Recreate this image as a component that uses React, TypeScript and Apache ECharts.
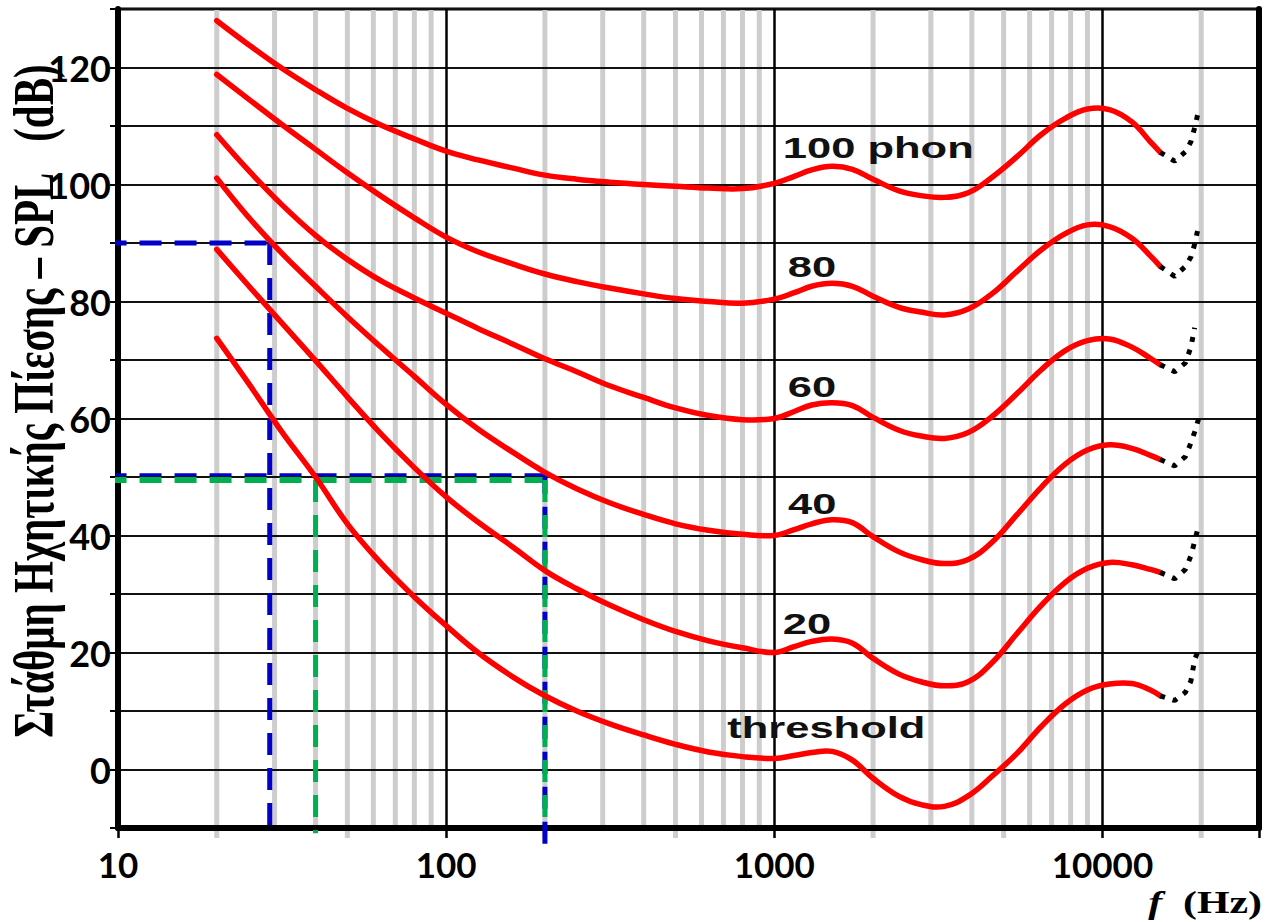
import React, { useEffect, useRef } from "react";
import * as echarts from "echarts";

// ---- data ----
const FREQS = [20, 25, 31.5, 40, 50, 63, 80, 100, 125, 160, 200, 250, 315, 400, 500, 630, 800, 1000, 1150, 1300, 1500, 1730, 2000, 2400, 2800, 3300, 3900, 4600, 5500, 6500, 7700, 9000, 10500, 12300, 14000, 15000];

const PHON_100 = [128, 123.9, 119.9, 116.2, 113, 110.2, 107.8, 105.7, 104.2, 102.8, 101.6, 100.9, 100.4, 100, 99.7, 99.4, 99.3, 100.2, 101.4, 102.5, 103.1, 102.6, 100.9, 98.9, 98.1, 97.8, 98.6, 101.2, 104.8, 108.5, 111.3, 112.9, 112.8, 110.7, 107.3, 105.5];
const PHON_80 = [118.8, 114.6, 110.3, 106, 102, 98.1, 94.3, 91, 88.5, 86.4, 84.7, 83.4, 82.3, 81.3, 80.5, 80, 79.7, 80.4, 81.5, 82.6, 83.1, 82.6, 80.9, 79, 78.2, 77.7, 78.7, 81.3, 85.2, 88.8, 91.6, 93.1, 92.8, 90.8, 87.8, 86];
const PHON_60 = [108.5, 102.4, 96.6, 91.3, 87.2, 83.6, 80.6, 78, 75.4, 72.7, 70.2, 68, 65.6, 63.6, 61.8, 60.5, 59.8, 60, 61.2, 62.3, 62.7, 62.2, 60.2, 58, 57, 56.6, 57.6, 60.3, 64.3, 68.3, 71.6, 73.3, 73.6, 72.2, 70.3, 69.2];
const PHON_40 = [101.1, 94.4, 88.3, 82.6, 77.4, 72.3, 67.2, 62.4, 58.2, 54.2, 50.8, 48, 45.6, 43.6, 42, 40.9, 40.2, 40, 41, 42, 42.7, 42.2, 39.8, 37.2, 35.9, 35.2, 35.9, 38.8, 43.6, 48.2, 52.2, 54.6, 55.5, 54.9, 53.7, 53];
const PHON_20 = [88.9, 82.7, 76.4, 69.9, 63.7, 57.5, 51.6, 46.6, 42.3, 38, 34, 30.9, 28.1, 25.6, 23.6, 22, 20.8, 20, 21, 21.9, 22.3, 21.6, 19, 16.3, 15, 14.3, 15, 18.2, 23.3, 28, 32, 34.4, 35.4, 35, 34.2, 33.7];
const THRESHOLD = [73.7, 66, 57.8, 50, 42, 35.4, 29.5, 24.6, 20, 15.8, 12.6, 10, 7.8, 5.9, 4.3, 3, 2.2, 1.9, 2.4, 2.9, 3.1, 1.6, -1.5, -4.6, -6, -6.3, -4.5, -1.2, 2.8, 7.3, 11.2, 13.6, 14.6, 14.7, 13.6, 12.6];

// dotted (uncertain) extensions above 15 kHz
const DOT_FREQS = [15000, 16600, 17900, 18600, 19100, 19700];
const DOT_100 = [105.5, 104, 105.6, 107.3, 109.7, 113];
const DOT_80 = [86, 84.3, 86, 87.6, 89.8, 93.3];
const DOT_60 = [69.2, 68, 69.5, 72.2, 75.5, null];
const DOT_40 = [53, 51.9, 53.5, 55.8, 57.7, 60.2];
const DOT_20 = [33.7, 32.6, 34.2, 36.5, 39, 42];
const DOT_THR = [12.6, 11.8, 13.2, 15.1, 18.8, 20.7];

// curve labels (anchor frequency / level)
const LABEL_TEXT = ["100 phon", "80", "60", "40", "20", "threshold"];
const LABEL_F = [1062, 1099, 1099, 1101, 1062, 719];
const LABEL_DB = [106.2, 85.9, 65.4, 45.3, 24.9, 7.0];

// axis ticks
const X_TICKS = [10, 100, 1000, 10000];
const Y_LABELS = [0, 20, 40, 60, 80, 100, 120];
const MINOR_FREQS = [20, 30, 40, 50, 60, 70, 80, 90, 200, 300, 400, 500, 600, 700, 800, 900, 2000, 3000, 4000, 5000, 6000, 7000, 8000, 9000, 20000];
const MINOR_LONG = [20, 50, 200, 500, 2000, 5000, 20000];

// reading guides
const BLUE_H90 = [[9.1, 90], [29, 90]];
const BLUE_V29 = [[29, 90], [29, -11.7]];
const GREEN_H50 = [[9.1, 49.5], [200, 49.5]];
const BLUE_H50 = [[9.1, 50.4], [200, 50.4]];
const GREEN_V40 = [[40, 49.5], [40, -10.9]];
const BLUE_V200 = [[200, 50.4], [200, -14.3]];
const GREEN_V200 = [[200, 49.5], [200, -10]];

const RED = "#ff0000";
const BLUE = "#0000c8";
const GREEN = "#00b050";

function App() {
  const ref = useRef<HTMLDivElement>(null);

  useEffect(() => {
    if (!ref.current) return;
    const chart = echarts.init(ref.current, undefined, { renderer: "svg" });

    // smooth red curve drawn through the data points mapped by the axes
    const curve = (vals: number[], name: string) => ({
      type: "custom",
      name,
      z: 5,
      silent: true,
      data: FREQS.map((f, i) => [f, vals[i]]),
      encode: { x: 0, y: 1 },
      renderItem: (params: any, api: any) => {
        if (params.dataIndex !== 0) return null;
        const pts = FREQS.map((f, i) => api.coord([f, vals[i]]));
        return {
          type: "polyline",
          shape: { points: pts, smooth: 0.4 },
          style: { stroke: RED, lineWidth: 5.5, fill: null, lineJoin: "round", lineCap: "round" },
        };
      },
    });

    const dotted = (vals: (number | null)[], name: string) => ({
      type: "line",
      name,
      data: DOT_FREQS.map((f, i) => [f, vals[i]]).filter((p) => p[1] !== null),
      symbol: "none",
      lineStyle: { color: "#000", width: 5, type: [5, 8], cap: "butt" },
      z: 5,
      silent: true,
    });

    const guide = (data: number[][], color: string, width: number, offset = 0) => ({
      type: "line",
      data,
      symbol: "none",
      clip: false,
      lineStyle: { color, width, type: [22, 13], dashOffset: offset, cap: "butt" },
      z: 4,
      silent: true,
    });

    const isPow10 = (v: number) => Math.abs(Math.log10(v) - Math.round(Math.log10(v))) < 1e-6;

    const option: any = {
      animation: false,
      backgroundColor: "#fff",
      grid: {
        left: 118,
        right: 6,
        top: 9,
        bottom: 94,
        show: true,
        backgroundColor: "#fff",
        borderColor: "#000",
        borderWidth: 3,
        containLabel: false,
        outerBoundsMode: "none",
      },
      xAxis: {
        type: "log",
        logBase: 10,
        min: 10,
        max: 30000,
        z: 3,
        axisLine: { show: true, onZero: false, lineStyle: { color: "#000", width: 6 } },
        axisTick: { show: true, length: 10, lineStyle: { color: "#000", width: 2.5 } },
        axisLabel: {
          margin: 18,
          color: "#000",
          fontFamily: "Lato",
          fontWeight: "bold",
          fontSize: 35,
          formatter: (v: number) => {
            const r = Math.round(v);
            return isPow10(v) && X_TICKS.indexOf(r) >= 0 ? String(r) : "";
          },
        },
        splitLine: { show: true, lineStyle: { color: "#000", width: 2.5 } },
        minorTick: { show: false },
        minorSplitLine: { show: false },
      },
      yAxis: [
        {
          type: "value",
          min: -10,
          max: 130,
          interval: 10,
          z: 3,
          axisLine: { show: true, onZero: false, lineStyle: { color: "#000", width: 6 } },
          axisTick: { show: true, length: 8, lineStyle: { color: "#000", width: 2 } },
          axisLabel: {
            margin: 7,
            color: "#000",
            fontFamily: "Lato",
            fontWeight: "bold",
            fontSize: 36,
            formatter: (v: number) => (Y_LABELS.indexOf(Math.round(v)) >= 0 ? String(Math.round(v)) : ""),
          },
          splitLine: { show: true, lineStyle: { color: "#111", width: 2 } },
        },
        {
          type: "value",
          position: "right",
          min: -10,
          max: 130,
          interval: 10,
          z: 3,
          axisLine: { show: true, onZero: false, lineStyle: { color: "#000", width: 6 } },
          axisTick: { show: false },
          axisLabel: { show: false },
          splitLine: { show: false },
        },
      ],
      series: [
        {
          type: "custom",
          name: "minor",
          z: 1,
          silent: true,
          data: MINOR_FREQS.map((f) => [f, MINOR_LONG.indexOf(f) >= 0 ? 1 : 0]),
          encode: { x: 0 },
          renderItem: (params: any, api: any) => {
            const f = api.value(0);
            const ext = api.value(1);
            const top = api.coord([f, 130]);
            const bot = api.coord([f, ext ? -11.7 : -10]);
            return {
              type: "line",
              shape: { x1: top[0], y1: top[1], x2: bot[0], y2: bot[1] },
              style: { stroke: "#cdcdcd", lineWidth: 5 },
            };
          },
        },
        guide(BLUE_H90, BLUE, 5),
        guide(BLUE_V29, BLUE, 5),
        guide(GREEN_H50, GREEN, 6),
        guide(BLUE_H50, BLUE, 3),
        guide(GREEN_V40, GREEN, 5),
        guide(BLUE_V200, BLUE, 5, 3),
        guide(GREEN_V200, GREEN, 5),
        curve(PHON_100, "100 phon"),
        curve(PHON_80, "80 phon"),
        curve(PHON_60, "60 phon"),
        curve(PHON_40, "40 phon"),
        curve(PHON_20, "20 phon"),
        curve(THRESHOLD, "threshold"),
        dotted(DOT_100, "d100"),
        dotted(DOT_80, "d80"),
        dotted(DOT_60, "d60"),
        dotted(DOT_40, "d40"),
        dotted(DOT_20, "d20"),
        dotted(DOT_THR, "dthr"),
        {
          type: "custom",
          name: "labels",
          z: 6,
          silent: true,
          data: LABEL_F.map((f, i) => [f, LABEL_DB[i]]),
          encode: { x: 0, y: 1 },
          renderItem: (params: any, api: any) => {
            const p = api.coord([api.value(0), api.value(1)]);
            return {
              type: "text",
              x: p[0],
              y: p[1],
              scaleX: 1.5,
              style: {
                text: LABEL_TEXT[params.dataIndex],
                fontFamily: "Liberation Sans",
                fontWeight: "bold",
                fontSize: 29,
                fill: "#111",
                align: "left",
                verticalAlign: "middle",
              },
            };
          },
        },
      ],
      graphic: [
        {
          type: "text",
          x: 34,
          y: 401,
          rotation: Math.PI / 2,
          scaleY: 1.4,
          style: {
            text: "Στάθμη Ηχητικής Πίεσης – SPL\u00a0\u00a0\u00a0(dB)",
            fontFamily: "'Liberation Serif', 'DejaVu Serif', serif",
            fontWeight: "bold",
            fontSize: 41,
            fill: "#000",
            align: "center",
            verticalAlign: "middle",
          },
        },
        {
          type: "text",
          x: 1262,
          y: 902,
          scaleX: 1.35,
          style: {
            text: "{i|f}\u00a0\u00a0(Hz)",
            rich: {
              i: {
                fontStyle: "italic",
                fontFamily: "'Liberation Serif', serif",
                fontWeight: "bold",
                fontSize: 31,
                fill: "#000",
              },
            },
            fontFamily: "'Liberation Serif', serif",
            fontWeight: "bold",
            fontSize: 31,
            fill: "#000",
            align: "right",
            verticalAlign: "middle",
          },
        },
      ],
    };

    chart.setOption(option);
    return () => chart.dispose();
  }, []);

  return (
    <div
      ref={ref}
      style={{ position: "fixed", left: 0, top: 0, width: 1265, height: 922, background: "#fff" }}
    />
  );
}

export default App;
